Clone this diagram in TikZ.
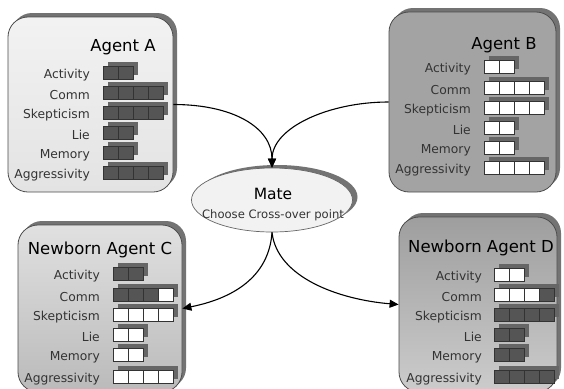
\documentclass[tikz,border=0pt]{standalone}
\usepackage{fontspec}
\setmainfont{DejaVu Sans}
\usetikzlibrary{shadows,arrows.meta,shapes.geometric}
\definecolor{dc}{HTML}{555555}
\definecolor{wc}{HTML}{FFFFFF}
\tikzset{
  agentbox/.style={draw=black!70, line width=0.8pt, rounded corners=20pt, inner sep=0pt,
    general shadow={shadow xshift=4pt, shadow yshift=4pt, fill=black!55}},
  cell/.style={draw=black!80, line width=0.6pt},
  cellshadow/.style={fill=black!60},
  lab/.style={anchor=east, inner sep=0pt, font=\fontsize{12.3}{14}\selectfont, text=black!80},
  ttl/.style={inner sep=0pt, font=\fontsize{16.5}{19}\selectfont},
  conn/.style={line width=1.1pt, -{Triangle[length=9pt,width=8pt]}},
  mateshape/.style={ellipse, draw=black!60, line width=0.7pt, fill=black!5, minimum width=161pt, minimum height=64pt, inner sep=0pt,
    general shadow={shadow xshift=5pt, shadow yshift=3pt, fill=black!55}}
}
\newcommand\agrow[7]{%
  \fill[cellshadow] (#3+5,#4-11.5) rectangle ++(#6*15,13);
  \foreach \c [count=\i from 0] in {#7} \draw[cell,fill=\c] (#3+\i*15,#4-6.5) rectangle ++(15,13);
  \node[lab] (#1) at (#2,#4+2) {#5};
}
\begin{document}
\begin{tikzpicture}[x=1pt,y=-1pt]
\clip (0,0) rectangle (564,388);
\fill[white] (0,0) rectangle (564,388);
% boxes
\node[agentbox, top color=black!5, bottom color=black!11, minimum width=165pt, minimum height=175pt] (A) at (90.5,104.5) {};
\node[agentbox, fill=black!36, minimum width=167pt, minimum height=180pt] (B) at (472.5,102) {};
\node[agentbox, top color=black!12, bottom color=black!27, minimum width=164pt, minimum height=167pt] (C) at (100,308.5) {};
\node[agentbox, top color=black!38, bottom color=black!20, minimum width=158pt, minimum height=175pt] (D) at (478,304.5) {};
% mate
\node[mateshape] (mate) at (272,200) {};
\node[inner sep=0pt, font=\fontsize{15.5}{18}\selectfont] (mateT) at (273,194) {Mate};
\node[inner sep=0pt, font=\fontsize{11.6}{14}\selectfont, text=black!80] (mateS) at (273,215) {Choose Cross-over point};
% titles
\node[ttl] (At) at (123,47) {Agent A};
\node[ttl] (Bt) at (504,45) {Agent B};
\node[ttl] (Ct) at (100,250) {Newborn Agent C};
\node[ttl] (Dt) at (481,248) {Newborn Agent D};
% Agent A
\agrow{a1}{90}{103}{73}{Activity}{2}{dc,dc}
\agrow{a2}{90}{103}{93}{Comm}{4}{dc,dc,dc,dc}
\agrow{a3}{90}{103}{113}{Skepticism}{4}{dc,dc,dc,dc}
\agrow{a4}{90}{103}{133}{Lie}{2}{dc,dc}
\agrow{a5}{90}{103}{153}{Memory}{2}{dc,dc}
\agrow{a6}{90}{103}{173}{Aggressivity}{4}{dc,dc,dc,dc}
% Agent B
\agrow{b1}{471}{484}{67}{Activity}{2}{wc,wc}
\agrow{b2}{471}{484}{88}{Comm}{4}{wc,wc,wc,wc}
\agrow{b3}{471}{484}{108}{Skepticism}{4}{wc,wc,wc,wc}
\agrow{b4}{471}{484}{128}{Lie}{2}{wc,wc}
\agrow{b5}{471}{484}{148}{Memory}{2}{wc,wc}
\agrow{b6}{471}{484}{168}{Aggressivity}{4}{wc,wc,wc,wc}
% Agent C
\agrow{c1}{100}{113}{274}{Activity}{2}{dc,dc}
\agrow{c2}{100}{113}{295}{Comm}{4}{dc,dc,dc,wc}
\agrow{c3}{100}{113}{315}{Skepticism}{4}{wc,wc,wc,wc}
\agrow{c4}{100}{113}{335}{Lie}{2}{wc,wc}
\agrow{c5}{100}{113}{355}{Memory}{2}{wc,wc}
\agrow{c6}{100}{113}{377}{Aggressivity}{4}{wc,wc,wc,wc}
% Agent D
\agrow{d1}{482}{494}{275}{Activity}{2}{wc,wc}
\agrow{d2}{482}{494}{295}{Comm}{4}{wc,wc,wc,dc}
\agrow{d3}{482}{494}{315}{Skepticism}{4}{dc,dc,dc,dc}
\agrow{d4}{482}{494}{335}{Lie}{2}{dc,dc}
\agrow{d5}{482}{494}{355}{Memory}{2}{dc,dc}
\agrow{d6}{482}{494}{377}{Aggressivity}{4}{dc,dc,dc,dc}
% connectors
\draw[conn] (A.east) .. controls +(60,0) and +(0,-40) .. (mate.north);
\draw[conn] (B.west) .. controls +(-60,0) and +(0,-40) .. (mate.north);
\draw[conn] (mate.south) .. controls +(-3,45) and +(50,-10) .. (C.east);
\draw[conn] (mate.south) .. controls +(5,45) and +(-60,-5) .. (D.west);
\end{tikzpicture}
\end{document}
